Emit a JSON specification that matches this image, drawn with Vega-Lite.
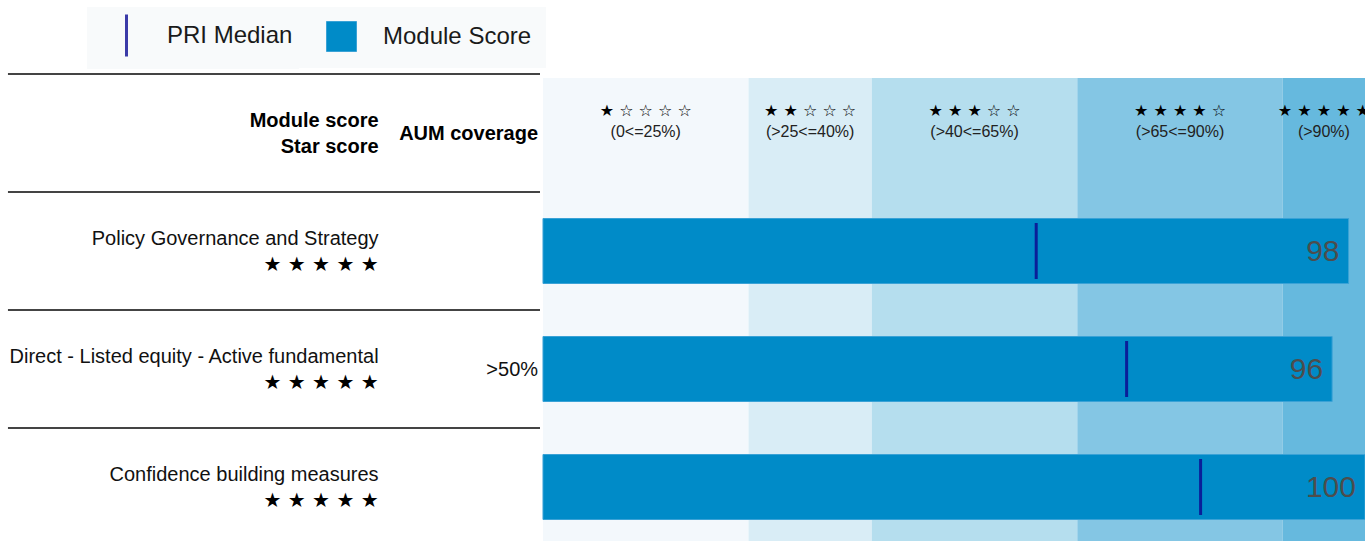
{
  "$schema": "https://vega.github.io/schema/vega-lite/v6.json",
  "width": 1365,
  "height": 541,
  "padding": 0,
  "autosize": {"type": "none"},
  "background": "#ffffff",
  "config": {
    "view": {"stroke": null},
    "axis": {"disable": true},
    "scale": {"continuousPadding": 0},
    "font": "Liberation Sans",
    "text": {"font": "Liberation Sans"}
  },
  "resolve": {"scale": {"color": "independent"}, "legend": {"color": "independent"}},
  "datasets": {
    "modules": [
      {"module": "Policy Governance and Strategy", "row": 1, "score": 98, "median": 60, "stars": "★ ★ ★ ★ ★", "aum": ""},
      {"module": "Direct - Listed equity - Active fundamental", "row": 2, "score": 96, "median": 71, "stars": "★ ★ ★ ★ ★", "aum": ">50%"},
      {"module": "Confidence building measures", "row": 3, "score": 100, "median": 80, "stars": "★ ★ ★ ★ ★", "aum": ""}
    ],
    "bands": [
      {"band": "1 star", "lo": 0, "hi": 25, "stars": "★ ☆ ☆ ☆ ☆", "label": "(0<=25%)"},
      {"band": "2 stars", "lo": 25, "hi": 40, "stars": "★ ★ ☆ ☆ ☆", "label": "(>25<=40%)"},
      {"band": "3 stars", "lo": 40, "hi": 65, "stars": "★ ★ ★ ☆ ☆", "label": "(>40<=65%)"},
      {"band": "4 stars", "lo": 65, "hi": 90, "stars": "★ ★ ★ ★ ☆", "label": "(>65<=90%)"},
      {"band": "5 stars", "lo": 90, "hi": 100, "stars": "★ ★ ★ ★ ★", "label": "(>90%)"}
    ]
  },
  "layer": [
    {
      "data": {"name": "bands"},
      "mark": {"type": "rect"},
      "encoding": {
        "x": {"field": "lo", "type": "quantitative", "scale": {"domain": [-66.058, 100], "nice": false, "zero": false, "padding": 0}},
        "x2": {"field": "hi"},
        "y": {"datum": -0.4661, "type": "quantitative", "scale": {"domain": [-1.1271, 3.4576], "reverse": true, "nice": false, "zero": false, "padding": 0}},
        "y2": {"datum": 3.4576},
        "fill": {"field": "band", "type": "nominal", "legend": null,
          "scale": {"domain": ["1 star", "2 stars", "3 stars", "4 stars", "5 stars"], "range": ["#f3f8fc", "#d9edf6", "#b5deee", "#84c6e4", "#66b9de"]}}
      }
    },
    {
      "data": {"name": "bands"},
      "transform": [{"calculate": "(datum.lo + datum.hi) / 2", "as": "mid"}],
      "mark": {"type": "text", "font": "DejaVu Sans", "fontSize": 16, "color": "#000000", "align": "center", "baseline": "middle", "dy": -22, "clip": true},
      "encoding": {
        "x": {"field": "mid", "type": "quantitative", "scale": {"domain": [-66.058, 100], "nice": false, "zero": false, "padding": 0}},
        "y": {"datum": 0, "type": "quantitative", "scale": {"domain": [-1.1271, 3.4576], "reverse": true, "nice": false, "zero": false, "padding": 0}},
        "text": {"field": "stars"}
      }
    },
    {
      "data": {"name": "bands"},
      "transform": [{"calculate": "(datum.lo + datum.hi) / 2", "as": "mid"}],
      "mark": {"type": "text", "fontSize": 16, "color": "#222222", "align": "center", "baseline": "middle", "dy": -1, "clip": true},
      "encoding": {
        "x": {"field": "mid", "type": "quantitative", "scale": {"domain": [-66.058, 100], "nice": false, "zero": false, "padding": 0}},
        "y": {"datum": 0, "type": "quantitative", "scale": {"domain": [-1.1271, 3.4576], "reverse": true, "nice": false, "zero": false, "padding": 0}},
        "text": {"field": "label"}
      }
    },
    {
      "data": {"values": [{}]},
      "mark": {"type": "rule", "color": "#444444", "strokeWidth": 2},
      "encoding": {
        "x": {"datum": -65.09, "type": "quantitative", "scale": {"domain": [-66.058, 100], "nice": false, "zero": false, "padding": 0}},
        "x2": {"datum": -0.365},
        "y": {"datum": -0.5, "type": "quantitative", "scale": {"domain": [-1.1271, 3.4576], "reverse": true, "nice": false, "zero": false, "padding": 0}}
      }
    },
    {
      "data": {"name": "modules"},
      "mark": {"type": "rule", "color": "#444444", "strokeWidth": 2, "yOffset": -59},
      "encoding": {
        "x": {"datum": -65.09, "type": "quantitative", "scale": {"domain": [-66.058, 100], "nice": false, "zero": false, "padding": 0}},
        "x2": {"datum": -0.365},
        "y": {"field": "row", "type": "quantitative", "scale": {"domain": [-1.1271, 3.4576], "reverse": true, "nice": false, "zero": false, "padding": 0}}
      }
    },
    {
      "data": {"values": [{}]},
      "mark": {"type": "text", "text": ["Module score", "Star score"], "lineHeight": 26, "fontSize": 20, "fontWeight": "bold", "color": "#000000", "align": "right", "baseline": "middle", "dy": -12},
      "encoding": {
        "x": {"datum": -20, "type": "quantitative", "scale": {"domain": [-66.058, 100], "nice": false, "zero": false, "padding": 0}},
        "y": {"datum": 0, "type": "quantitative", "scale": {"domain": [-1.1271, 3.4576], "reverse": true, "nice": false, "zero": false, "padding": 0}}
      }
    },
    {
      "data": {"values": [{}]},
      "mark": {"type": "text", "text": "AUM coverage", "fontSize": 20, "fontWeight": "bold", "color": "#000000", "align": "right", "baseline": "middle", "dy": 1},
      "encoding": {
        "x": {"datum": -0.6, "type": "quantitative", "scale": {"domain": [-66.058, 100], "nice": false, "zero": false, "padding": 0}},
        "y": {"datum": 0, "type": "quantitative", "scale": {"domain": [-1.1271, 3.4576], "reverse": true, "nice": false, "zero": false, "padding": 0}}
      }
    },
    {
      "data": {"name": "modules"},
      "mark": {"type": "bar", "orient": "horizontal", "height": 65, "stroke": "#3aa2d6", "strokeWidth": 1},
      "encoding": {
        "x": {"field": "score", "type": "quantitative", "scale": {"domain": [-66.058, 100], "nice": false, "zero": false, "padding": 0}},
        "x2": {"datum": 0},
        "y": {"field": "row", "type": "quantitative", "scale": {"domain": [-1.1271, 3.4576], "reverse": true, "nice": false, "zero": false, "padding": 0}},
        "color": {"datum": "Module Score", "type": "nominal",
          "scale": {"range": ["#008bc8"]},
          "legend": {
            "title": null, "orient": "none", "legendX": 298, "legendY": 7,
            "padding": 14, "fillColor": "#f8fafb", "labelOffset": 26, "symbolOffset": 14,
            "symbolType": "square", "symbolSize": 900, "symbolStrokeColor": "#3aa2d6", "symbolStrokeWidth": 1,
            "labelFontSize": 24, "labelFont": "Liberation Sans", "labelColor": "#1a1a1a"
          }}
      }
    },
    {
      "data": {"name": "modules"},
      "mark": {"type": "tick", "orient": "vertical", "size": 56, "thickness": 3, "opacity": 1},
      "encoding": {
        "x": {"field": "median", "type": "quantitative", "scale": {"domain": [-66.058, 100], "nice": false, "zero": false, "padding": 0}},
        "y": {"field": "row", "type": "quantitative", "scale": {"domain": [-1.1271, 3.4576], "reverse": true, "nice": false, "zero": false, "padding": 0}},
        "color": {"datum": "PRI Median", "type": "nominal",
          "scale": {"range": ["#0a1f99"]},
          "legend": {
            "title": null, "orient": "none", "legendX": 87, "legendY": 7,
            "padding": 6, "fillColor": "#f8fafb", "labelOffset": 18, "symbolOffset": 11,
            "symbolType": "M0,-1L0,1", "symbolSize": 1764, "symbolStrokeWidth": 3, "symbolStrokeColor": "#3b3ba8",
            "labelFontSize": 24, "labelFont": "Liberation Sans", "labelColor": "#1a1a1a",
            "encode": {"symbols": {"stroke": {"value": "#3b3ba8"}, "strokeWidth": {"value": 3}, "fill": {"value": "transparent"}}}
          }}
      }
    },
    {
      "data": {"name": "modules"},
      "mark": {"type": "text", "fontSize": 30, "color": "#4d4d4d", "align": "right", "baseline": "middle", "dx": -9, "dy": 1},
      "encoding": {
        "x": {"field": "score", "type": "quantitative", "scale": {"domain": [-66.058, 100], "nice": false, "zero": false, "padding": 0}},
        "y": {"field": "row", "type": "quantitative", "scale": {"domain": [-1.1271, 3.4576], "reverse": true, "nice": false, "zero": false, "padding": 0}},
        "text": {"field": "score"}
      }
    },
    {
      "data": {"name": "modules"},
      "mark": {"type": "text", "fontSize": 20, "color": "#111111", "align": "right", "baseline": "middle", "dy": -12},
      "encoding": {
        "x": {"datum": -20, "type": "quantitative", "scale": {"domain": [-66.058, 100], "nice": false, "zero": false, "padding": 0}},
        "y": {"field": "row", "type": "quantitative", "scale": {"domain": [-1.1271, 3.4576], "reverse": true, "nice": false, "zero": false, "padding": 0}},
        "text": {"field": "module"}
      }
    },
    {
      "data": {"name": "modules"},
      "mark": {"type": "text", "font": "DejaVu Sans", "fontSize": 20, "color": "#000000", "align": "right", "baseline": "middle", "dy": 14},
      "encoding": {
        "x": {"datum": -20, "type": "quantitative", "scale": {"domain": [-66.058, 100], "nice": false, "zero": false, "padding": 0}},
        "y": {"field": "row", "type": "quantitative", "scale": {"domain": [-1.1271, 3.4576], "reverse": true, "nice": false, "zero": false, "padding": 0}},
        "text": {"field": "stars"}
      }
    },
    {
      "data": {"name": "modules"},
      "mark": {"type": "text", "fontSize": 20, "color": "#111111", "align": "right", "baseline": "middle", "dy": 1},
      "encoding": {
        "x": {"datum": -0.6, "type": "quantitative", "scale": {"domain": [-66.058, 100], "nice": false, "zero": false, "padding": 0}},
        "y": {"field": "row", "type": "quantitative", "scale": {"domain": [-1.1271, 3.4576], "reverse": true, "nice": false, "zero": false, "padding": 0}},
        "text": {"field": "aum"}
      }
    }
  ]
}
